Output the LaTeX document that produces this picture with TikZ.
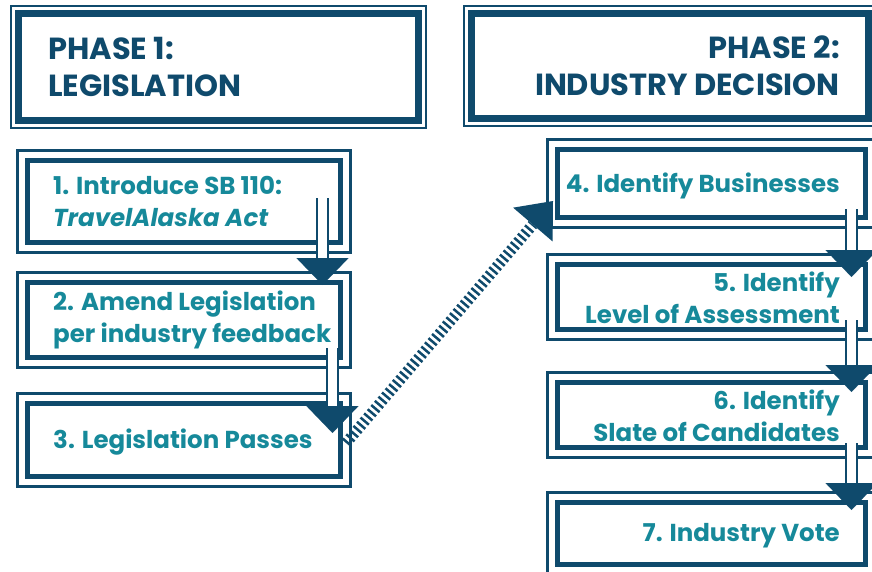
\documentclass[tikz,border=0pt]{standalone}
\usepackage{fontspec}
\setmainfont{Poppins}
\usetikzlibrary{arrows.meta}
\definecolor{navy}{HTML}{0F4A6C}
\definecolor{stepteal}{HTML}{16899A}
\tikzset{phase box/.style={draw=navy,line width=7pt,inner sep=0pt},
  step box/.style={draw=navy,line width=5pt,inner sep=0pt},
  outer frame/.style={draw=navy,line width=#1},
  phase text/.style={inner sep=0pt,text=navy,font=\fontsize{30.5}{37}\selectfont\bfseries},
  step text/.style={inner sep=0pt,text=stepteal,font=\fontsize{24.5}{32}\selectfont\bfseries},
  flow head/.style={draw=navy,line width=0.1pt,-{Triangle[width=52pt,length=27pt]}},
  flow shaft/.style={draw=navy,line width=2pt,double=white,double distance=9pt,shorten >=27pt},
  hatch/.style={draw=navy,line width=11pt,dash pattern=on 2.5pt off 3pt,
    -{Triangle[width=52pt,length=31pt,line width=0pt]}},
}

\begin{document}
\begin{tikzpicture}[x=1pt,y=-1pt]
	\useasboundingbox (0,0) rectangle (872,572);
	
	% phase headers
	\node[phase box,minimum width=399.5pt,minimum height=107pt] (p1) at (218.25,67) {};
	\node[phase box,minimum width=397pt,minimum height=105pt] (p2) at (669.5,66) {};
	
	% steps
	\node[step box,minimum width=313pt,minimum height=82pt] (b1) at (184,201.5) {};
	\node[step box,minimum width=313pt,minimum height=75pt] (b2) at (184,320) {};
	\node[step box,minimum width=313pt,minimum height=73pt] (b3) at (184,440) {};
	\node[step box,minimum width=308pt,minimum height=68pt] (b4) at (711.5,183.5) {};
	\node[step box,minimum width=308pt,minimum height=65pt] (b5) at (711.5,297) {};
	\node[step box,minimum width=308pt,minimum height=65pt] (b6) at (711.5,415) {};
	\node[step box,minimum width=308pt,minimum height=62pt] (b7) at (711.5,533.5) {};
	
	\foreach \n/\d/\w in {p1/4pt/2pt,p2/4pt/2pt,b1/7.5pt/3pt,b2/7.5pt/3pt,b3/7.5pt/3pt,
		b4/7.5pt/3pt,b5/7.5pt/3pt,b6/7.5pt/3pt,b7/7.5pt/3pt}
	\draw[outer frame=\w] ([shift={(-\d,\d)}]\n.north west) rectangle ([shift={(\d,-\d)}]\n.south east);
	
	\node[phase text,anchor=west,align=left] (h1) at ([xshift=33pt]p1.west) {PHASE 1:\\LEGISLATION};
	\node[phase text,anchor=east,align=right] (h2) at ([xshift=-31.5pt]p2.east) {PHASE 2:\\INDUSTRY DECISION};
	
	\node[step text,anchor=west,align=left] (t1) at ([xshift=28pt]b1.west) {1. Introduce SB 110:\\\textit{TravelAlaska Act}};
	\node[step text,anchor=west,align=left] (t2) at ([xshift=28pt]b2.west) {2. Amend Legislation\\per industry feedback};
	\node[step text,anchor=west,align=left] (t3) at ([xshift=28pt,yshift=-2pt]b3.west) {3. Legislation Passes};
	\node[step text,anchor=east,align=right] (t4) at ([xshift=-28pt,yshift=-2pt]b4.east) {4. Identify Businesses};
	\node[step text,anchor=east,align=right] (t5) at ([xshift=-28pt,yshift=-1pt]b5.east) {5. Identify\\Level of Assessment};
	\node[step text,anchor=east,align=right] (t6) at ([xshift=-28pt,yshift=-1pt]b6.east) {6. Identify\\Slate of Candidates};
	\node[step text,anchor=east,align=right] (t7) at ([xshift=-28pt,yshift=-2pt]b7.east) {7. Industry Vote};
	
	% arrow ends
	\coordinate (s12) at ([xshift=-20.5pt,yshift=3.5pt]b1.east);
	\coordinate (e12) at ([xshift=-20.5pt,yshift=-5pt]b2.north east);
	\coordinate (s23) at ([xshift=-10.5pt,yshift=-28pt]b2.east);
	\coordinate (e23) at ([xshift=-10.5pt,yshift=-32pt]b3.north east);
	\coordinate (s45) at ([xshift=-16.5pt,yshift=-25.5pt]b4.east);
	\coordinate (e45) at ([xshift=-16.5pt,yshift=-15pt]b5.north east);
	\coordinate (s56) at ([xshift=-16.5pt,yshift=-23pt]b5.east);
	\coordinate (e56) at ([xshift=-16.5pt,yshift=-12pt]b6.north east);
	\coordinate (s67) at ([xshift=-16.5pt,yshift=-28pt]b6.east);
	\coordinate (e67) at ([xshift=-16.5pt,yshift=-10pt]b7.north east);
	\coordinate (s34) at ([xshift=3pt,yshift=-3pt]b3.east);
	\coordinate (e34) at ([xshift=-2pt,yshift=-17.5pt]b4.west);
	
	\foreach \s/\e in {s12/e12,s23/e23,s45/e45,s56/e56,s67/e67}{
		\draw[flow head] (\s) -- (\e);
		\draw[flow shaft] (\s) -- (\e);
	}
	\draw[hatch] (s34) -- (e34);
\end{tikzpicture}
\end{document}
